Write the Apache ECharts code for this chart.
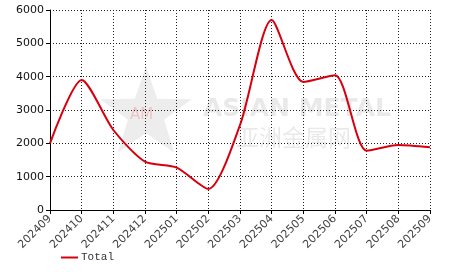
<!DOCTYPE html>
<html><head><meta charset="utf-8">
<script src="https://cdn.jsdelivr.net/npm/echarts@6/dist/echarts.min.js"></script>
<style>html,body{margin:0;padding:0;background:#fff}#c{width:466px;height:272px}</style>
</head><body><div id="c"></div>
<script>
var categories = ['202409','202410','202411','202412','202501','202502','202503','202504','202505','202506','202507','202508','202509'];
var totalValues = [2000, 3900, 2400, 1450, 1270, 630, 2550, 5700, 3840, 4040, 1780, 1950, 1880];
var yTicks = [0, 1000, 2000, 3000, 4000, 5000, 6000];

function starPoints(cx, cy, R, r) {
  var pts = [];
  for (var i = 0; i < 10; i++) {
    var a = -Math.PI / 2 + i * Math.PI / 5;
    var rad = i % 2 === 0 ? R : r;
    pts.push([cx + rad * Math.cos(a), cy + rad * Math.sin(a)]);
  }
  return pts;
}

var chart = echarts.init(document.getElementById('c'));
chart.setOption({
  animation: false,
  backgroundColor: '#fff',
  grid: { left: 50, right: 36, top: 10, bottom: 62, containLabel: false },
  graphic: [
    { type: 'polygon', z: 0, shape: { points: starPoints(146, 114, 48, 19) }, style: { fill: 'rgba(190,190,190,0.28)' } },
    { type: 'text', left: 130, top: 108, z: 0, style: { text: 'AM', font: '15px "DejaVu Sans"', fill: 'rgba(235,120,120,0.35)' } },
    { type: 'text', left: 203, top: 97, z: 0, style: { text: 'ASIAN METAL', font: 'bold 25px "DejaVu Sans"', fill: 'rgba(200,200,200,0.4)' } },
    { type: 'text', left: 236, top: 126, z: 0, style: { text: '亚洲金属网', font: '23px "Noto Sans CJK SC"', fill: 'rgba(200,200,200,0.4)' } }
  ],
  legend: {
    left: 56, bottom: 4, itemWidth: 17, itemHeight: 10, itemGap: 4,
    icon: 'path://M0,4L17,4L17,6L0,6Z',
    textStyle: { fontFamily: '"Liberation Mono", "DejaVu Sans Mono", monospace', fontSize: 11, color: '#333', padding: [0, 0, 0, -2] },
    data: ['Total']
  },
  xAxis: {
    type: 'category', data: categories, boundaryGap: false,
    axisLine: { lineStyle: { color: '#000', width: 1 } },
    axisTick: { show: true, length: 4, lineStyle: { color: '#000' } },
    axisLabel: { rotate: 45, fontSize: 11, color: '#444', margin: 7, fontFamily: '"DejaVu Sans", sans-serif' },
    splitLine: { show: true, lineStyle: { type: [1, 2], color: '#222' } }
  },
  yAxis: {
    type: 'value', min: yTicks[0], max: yTicks[yTicks.length - 1], interval: 1000,
    axisLine: { show: true, lineStyle: { color: '#000', width: 1 } },
    axisTick: { show: true, length: 4, lineStyle: { color: '#000' } },
    axisLabel: { fontSize: 11, color: '#111', margin: 6, fontFamily: '"DejaVu Sans", sans-serif', formatter: function (v) { return String(v); } },
    splitLine: { show: true, lineStyle: { type: [1, 2], color: '#222' } }
  },
  series: [{
    name: 'Total', type: 'line', data: totalValues, smooth: 0.25,
    showSymbol: false, symbol: 'none',
    lineStyle: { color: '#d7000f', width: 2 },
    itemStyle: { color: '#d7000f' }
  }]
});
</script></body></html>
